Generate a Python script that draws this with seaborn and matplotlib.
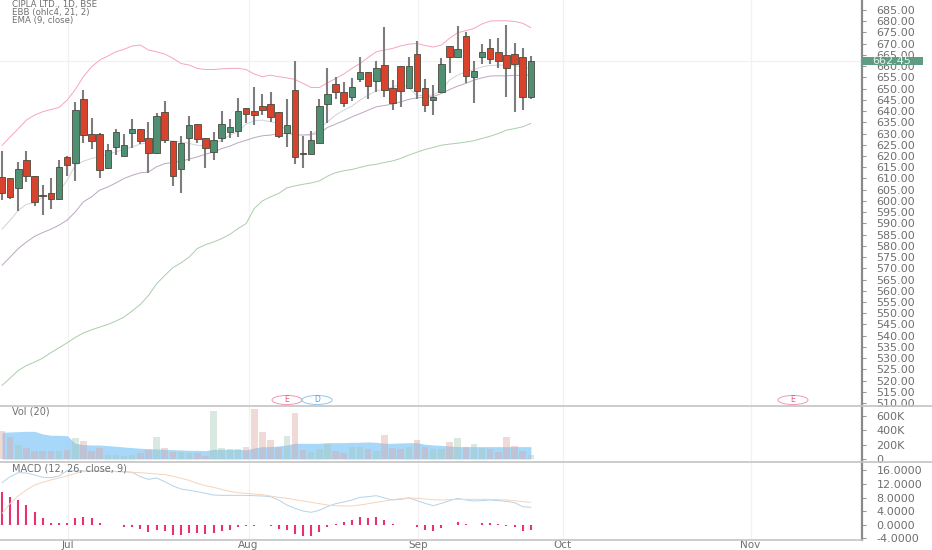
"""
CIPLA daily chart - candles, Bollinger (EBB), EMA, volume and MACD panels
"""

import numpy as np
import matplotlib.pyplot as plt
import seaborn as sns
from matplotlib.lines import Line2D
from matplotlib.patches import Ellipse, Rectangle

# candles
opens = [610.7, 610.0, 605.9, 618.1, 611.0, 602.6, 603.3, 601.0, 619.6, 617.1, 645.2, 630.0, 630.0, 614.6, 623.8, 620.1, 630.2, 632.2, 628.1, 621.5, 639.5, 626.6, 614.0, 628.1, 634.2, 628.1, 621.8, 628.1, 630.6, 631.2, 641.2, 640.1, 642.2, 643.1, 639.7, 630.3, 649.3, 621.3, 621.1, 626.0, 643.2, 652.0, 648.3, 646.2, 654.4, 657.2, 653.2, 660.5, 650.1, 660.2, 650.1, 665.2, 650.1, 645.0, 648.4, 669.1, 664.0, 673.4, 655.0, 664.2, 668.2, 666.1, 665.1, 665.2, 664.2, 646.1]
closes = [603.7, 601.8, 614.1, 611.0, 599.4, 602.2, 600.7, 615.2, 615.9, 640.4, 629.4, 626.7, 613.7, 622.7, 630.8, 624.8, 632.2, 626.6, 621.5, 637.7, 627.3, 611.1, 625.9, 633.6, 627.5, 623.6, 627.0, 634.2, 632.7, 640.0, 638.5, 638.3, 640.7, 637.4, 628.8, 633.6, 619.5, 620.9, 626.9, 642.2, 647.6, 648.3, 643.7, 650.8, 657.2, 651.1, 659.4, 649.2, 643.7, 648.9, 660.2, 649.0, 642.9, 646.1, 660.9, 664.0, 667.5, 655.7, 658.0, 666.3, 663.2, 662.3, 659.4, 660.8, 646.4, 662.45]
highs = [622.1, 610.0, 617.5, 622.3, 611.0, 607.0, 610.0, 618.4, 619.9, 644.1, 649.3, 636.7, 630.3, 625.3, 632.2, 630.0, 636.3, 632.2, 635.2, 639.2, 644.3, 626.6, 629.0, 637.7, 634.2, 628.1, 630.8, 640.0, 636.6, 645.9, 641.2, 650.8, 647.6, 648.6, 639.7, 645.2, 662.1, 629.0, 631.1, 645.2, 659.0, 655.3, 653.1, 654.8, 664.2, 657.2, 662.3, 677.6, 653.8, 660.2, 663.9, 671.3, 654.1, 651.6, 663.8, 669.1, 677.9, 675.0, 662.3, 669.8, 672.1, 672.4, 678.3, 670.4, 667.9, 664.5]
lows = [600.3, 601.0, 595.5, 608.5, 597.6, 593.8, 596.3, 600.3, 611.0, 608.9, 625.6, 623.3, 610.4, 614.4, 620.4, 620.1, 623.5, 625.3, 612.6, 621.1, 625.9, 606.7, 603.4, 617.7, 625.6, 614.7, 618.4, 626.3, 628.2, 628.5, 634.9, 633.7, 638.2, 635.2, 627.8, 624.1, 616.3, 614.7, 621.1, 626.0, 634.8, 645.3, 641.9, 644.4, 653.0, 645.2, 648.4, 646.1, 640.7, 641.6, 650.1, 645.3, 639.7, 638.3, 648.1, 656.8, 664.0, 652.3, 643.8, 660.9, 660.8, 659.4, 646.4, 639.8, 640.7, 645.3]

# indicators on the price panel
bb_upper = [624.7, 628.5, 632.2, 636.0, 638.2, 639.7, 640.7, 641.6, 644.9, 649.6, 655.3, 659.7, 662.7, 664.5, 666.4, 667.5, 669.0, 669.4, 667.2, 666.4, 665.4, 663.5, 661.2, 660.5, 659.0, 658.5, 658.5, 658.8, 659.0, 659.0, 658.5, 656.5, 655.3, 656.0, 655.3, 654.8, 654.1, 652.3, 650.5, 650.5, 652.6, 654.5, 656.5, 659.0, 661.2, 663.9, 666.4, 667.2, 667.9, 669.0, 669.8, 670.1, 669.2, 668.5, 669.4, 672.4, 674.9, 675.8, 676.8, 678.8, 680.1, 680.2, 680.2, 679.9, 679.1, 677.1]
bb_basis = [571.3, 575.0, 578.8, 581.7, 584.2, 585.9, 587.4, 589.2, 591.4, 595.1, 599.6, 601.8, 604.8, 606.2, 608.0, 610.0, 611.4, 612.5, 612.9, 615.2, 616.6, 617.1, 617.7, 618.6, 619.6, 620.8, 621.8, 623.3, 624.4, 625.9, 627.0, 628.2, 629.0, 629.3, 630.0, 630.0, 629.6, 629.3, 629.7, 630.0, 632.7, 634.2, 635.7, 637.4, 638.9, 640.4, 641.9, 642.5, 643.1, 644.1, 645.2, 645.9, 646.2, 646.4, 647.8, 649.6, 651.1, 652.3, 653.8, 654.8, 655.6, 655.7, 655.7, 655.9, 656.0, 656.0]
bb_lower = [517.8, 521.1, 524.5, 526.7, 528.2, 530.0, 532.4, 534.6, 536.8, 539.2, 541.2, 542.6, 543.8, 545.0, 546.5, 548.3, 551.0, 553.9, 557.9, 563.1, 566.8, 570.3, 572.4, 575.0, 578.8, 580.5, 581.7, 583.2, 585.1, 587.7, 589.9, 596.6, 600.0, 601.8, 603.3, 605.8, 606.7, 607.4, 608.0, 608.9, 611.0, 612.6, 613.4, 614.0, 614.9, 615.8, 616.3, 617.1, 617.8, 618.9, 620.4, 621.7, 622.9, 623.8, 624.8, 625.3, 625.7, 626.2, 626.8, 627.8, 628.8, 630.0, 631.5, 632.2, 633.0, 634.5]
ema9 = [587.4, 591.4, 595.8, 598.5, 599.1, 601.8, 602.5, 604.0, 609.2, 615.9, 617.7, 618.9, 619.6, 620.8, 621.8, 623.0, 624.1, 625.3, 625.9, 626.3, 627.0, 626.7, 626.3, 625.6, 624.8, 624.4, 625.6, 627.0, 629.3, 630.8, 634.2, 635.7, 636.0, 635.2, 634.5, 631.2, 629.6, 629.3, 629.3, 632.2, 635.2, 638.2, 640.4, 642.2, 644.9, 647.1, 649.0, 649.6, 650.5, 652.3, 650.5, 646.8, 647.1, 647.1, 649.3, 653.8, 656.0, 657.5, 658.5, 659.7, 660.3, 660.5, 660.5, 660.2, 659.7, 659.0]

# volume in thousands
volume = [388, 310, 194, 148, 106, 106, 106, 106, 125, 286, 254, 115, 148, 55, 55, 46, 55, 79, 125, 310, 148, 102, 102, 88, 79, 42, 665, 148, 134, 139, 171, 688, 370, 263, 162, 323, 633, 125, 102, 134, 208, 115, 79, 171, 162, 134, 111, 333, 157, 134, 162, 263, 171, 139, 139, 240, 286, 171, 203, 148, 139, 102, 310, 180, 115, 55]
vol_ma = [370, 374, 379, 383, 383, 347, 328, 328, 323, 217, 199, 194, 194, 185, 176, 166, 157, 148, 143, 139, 134, 129, 125, 120, 120, 115, 134, 134, 134, 134, 125, 152, 171, 171, 180, 194, 217, 217, 217, 217, 226, 226, 226, 231, 231, 236, 231, 217, 217, 222, 226, 226, 203, 194, 189, 180, 171, 171, 171, 171, 171, 171, 171, 171, 171, 171]

# MACD panel
macd_hist = [9.64, 8.06, 7.28, 5.80, 3.64, 1.87, 0.39, 0.39, 0.39, 2.06, 2.26, 1.87, 0.39, 0.0, 0.0, -0.59, -0.79, -1.38, -2.06, -1.57, -1.77, -3.15, -3.15, -2.56, -2.56, -2.65, -2.56, -1.97, -1.67, -0.69, -0.39, -0.29, 0.0, -0.29, -1.18, -1.57, -2.65, -3.44, -3.24, -2.06, -0.79, 0.2, 0.69, 1.38, 2.26, 2.06, 2.26, 1.38, 0.1, -0.1, -0.1, -0.69, -1.47, -1.77, -0.88, 0.0, 0.79, 0.2, -0.05, 0.49, 0.49, 0.1, -0.29, -0.69, -1.97, -1.67]
macd_line = [12.39, 14.16, 15.34, 15.24, 14.65, 13.96, 13.86, 14.36, 15.93, 15.83, 15.83, 15.83, 15.83, 15.83, 15.73, 15.63, 15.44, 14.16, 13.37, 13.77, 12.68, 11.41, 10.52, 10.13, 9.73, 9.24, 8.75, 8.65, 8.65, 8.65, 8.65, 8.55, 8.46, 8.26, 7.28, 5.80, 4.82, 4.03, 3.64, 4.23, 5.31, 6.19, 6.69, 7.28, 8.06, 8.26, 8.55, 7.87, 7.28, 7.47, 7.87, 7.08, 6.29, 5.60, 6.29, 7.08, 7.77, 7.28, 6.98, 7.08, 7.28, 7.08, 6.88, 6.49, 5.31, 5.11]
macd_signal = [3.34, 6.29, 8.46, 10.23, 11.70, 12.49, 13.18, 13.77, 14.36, 15.14, 15.63, 15.83, 15.83, 15.73, 15.63, 15.54, 15.44, 15.34, 15.14, 14.95, 14.75, 14.26, 13.67, 13.08, 12.19, 11.50, 11.01, 10.42, 9.83, 9.44, 9.24, 9.05, 8.85, 8.46, 8.06, 7.77, 7.37, 6.98, 6.59, 6.19, 5.80, 5.60, 5.51, 5.51, 5.80, 6.19, 6.59, 6.98, 7.37, 7.67, 7.87, 7.77, 7.57, 7.37, 7.28, 7.37, 7.47, 7.47, 7.47, 7.47, 7.47, 7.37, 7.28, 7.08, 6.78, 6.59]

month_labels = ['Jul', 'Aug', 'Sep', 'Oct', 'Nov']
month_pos = [8.15, 30.3, 51.1, 68.9, 92.0]

W, H = 932, 550
RIGHT = 862
TEXT = '#6f6f6f'
GRID = '#f1f1f4'
UP, DOWN = '#4f8f73', '#d8432e'
UP_VOL, DOWN_VOL = '#a6c9b6', '#dba8a2'

sns.set_theme(style='white')
plt.rcParams['font.family'] = ['DejaVu Sans']
fig = plt.figure(figsize=(W / 100, H / 100), dpi=100)


def panel(top, bottom):
    ax = fig.add_axes([0, 1 - bottom / H, RIGHT / W, (bottom - top) / H])
    ax.patch.set_alpha(0)
    for name in ['left', 'top', 'bottom']:
        ax.spines[name].set_visible(False)
    ax.spines['right'].set_color('#8a8a8a')
    ax.spines['right'].set_linewidth(1.6)
    ax.yaxis.tick_right()
    ax.tick_params(axis='y', length=3, width=0.8, color='#9a9a9a', pad=7.5,
                   labelsize=8, labelcolor=TEXT, right=True, left=False)
    ax.set_xticks(month_pos)
    ax.tick_params(axis='x', length=0, labelbottom=False)
    for p in month_pos:
        ax.axvline(p, color=GRID, lw=0.9, zorder=0)
    return ax


def px_x(x):
    return x / W


def px_y(y):
    return 1 - y / H


idx = np.arange(len(closes))
is_up = np.array(closes) >= np.array(opens)
o, c = np.array(opens), np.array(closes)
xlim = (-0.25, 105.7)

# price panel
ax = panel(0, 405.5)
ax.axhline(closes[-1], color=GRID, lw=0.9, zorder=0)
for vals, col in [(bb_upper, '#f6a5bd'), (bb_basis, '#bba6c0'),
                  (bb_lower, '#abcdab'), (ema9, '#cfd3da')]:
    sns.lineplot(x=idx, y=vals, color=col, lw=0.7, ax=ax, legend=False, zorder=1)
ax.vlines(idx, lows, highs, color='#7d7d7d', lw=1.5, zorder=2)
ax.bar(idx, np.maximum(np.abs(c - o), 0.4), bottom=np.minimum(o, c), width=0.8,
       color=[UP if u else DOWN for u in is_up], edgecolor='#4a4a3e', linewidth=0.6, zorder=3)
ax.set_xlim(xlim)
ax.set_ylim(508.9, 689.46)
ax.set_yticks(np.arange(510, 686, 5))
ax.set_yticklabels([f'{v:.2f}' for v in np.arange(510, 686, 5)])
ax.set_xlabel('')
ax.set_ylabel('')

# volume panel
ax_vol = panel(405.5, 461.5)
ax_vol.fill_between(idx, 0, vol_ma, color='#98d0f9', alpha=0.85, lw=0, zorder=1)
sns.barplot(x=idx, y=volume, hue=idx, native_scale=True, dodge=False, width=0.8, saturation=1,
            alpha=0.42, linewidth=0, palette=[UP_VOL if u else DOWN_VOL for u in is_up],
            legend=False, ax=ax_vol, zorder=2)
ax_vol.set_xlim(xlim)
ax_vol.set_ylim(-35, 741)
ax_vol.set_yticks([0, 200, 400, 600])
ax_vol.set_yticklabels(['0', '200K', '400K', '600K'])
ax_vol.set_xlabel('')
ax_vol.set_ylabel('')

# MACD panel
ax_macd = panel(461.5, 540)
ax_macd.vlines(idx, 0, macd_hist, color='#e8326f', lw=1.5, zorder=1)
sns.lineplot(x=idx, y=macd_line, color='#b3d3ea', lw=0.7, ax=ax_macd, legend=False, zorder=2)
sns.lineplot(x=idx, y=macd_signal, color='#f6d3bb', lw=0.7, ax=ax_macd, legend=False, zorder=2)
ax_macd.set_xlim(xlim)
ax_macd.set_ylim(-4.52, 18.63)
ax_macd.set_yticks([-4, 0, 4, 8, 12, 16])
ax_macd.set_yticklabels([f'{v:.4f}' for v in [-4, 0, 4, 8, 12, 16]])
ax_macd.set_xlabel('')
ax_macd.set_ylabel('')
ax_macd.tick_params(axis='x', labelbottom=True, labelsize=7.5, labelcolor=TEXT, pad=0)
ax_macd.set_xticklabels(month_labels)

# panel separators
for y, x1 in [(405.5, W), (461.5, W), (540, RIGHT)]:
    fig.add_artist(Line2D([0, px_x(x1)], [px_y(y), px_y(y)], color='#c4c4c4', lw=1.2))

# legend texts
for label, y in [('CIPLA LTD., 1D, BSE', 5), ('EBB (ohlc4, 21, 2)', 13), ('EMA (9, close)', 21)]:
    fig.text(px_x(12), px_y(y), label, fontsize=6.2, color=TEXT, va='center')
fig.text(px_x(12), px_y(412), 'Vol (20)', fontsize=7, color=TEXT, va='center')
fig.text(px_x(12), px_y(468.5), 'MACD (12, 26, close, 9)', fontsize=7, color=TEXT, va='center')

# earnings / dividend markers
for label, cx, col in [('E', 287, '#e8577f'), ('D', 317, '#4aa3e0'), ('E', 793, '#e8577f')]:
    fig.add_artist(Ellipse((px_x(cx), px_y(400)), 30 / W, 9 / H, transform=fig.transFigure,
                           facecolor='white', edgecolor=col, lw=0.6, alpha=0.7))
    fig.text(px_x(cx), px_y(400), label, fontsize=5.5, color=col, ha='center', va='center')

# last price tag
fig.add_artist(Rectangle((px_x(RIGHT), px_y(64.5)), 61 / W, 7.5 / H, transform=fig.transFigure,
                         facecolor='#5f9c82', edgecolor='none', zorder=5))
fig.text(px_x(872), px_y(60.7), f'{closes[-1]:.2f}', fontsize=8, color='#e8f1ec', va='center', zorder=6)

plt.savefig('out.png', dpi=100)
plt.close()
